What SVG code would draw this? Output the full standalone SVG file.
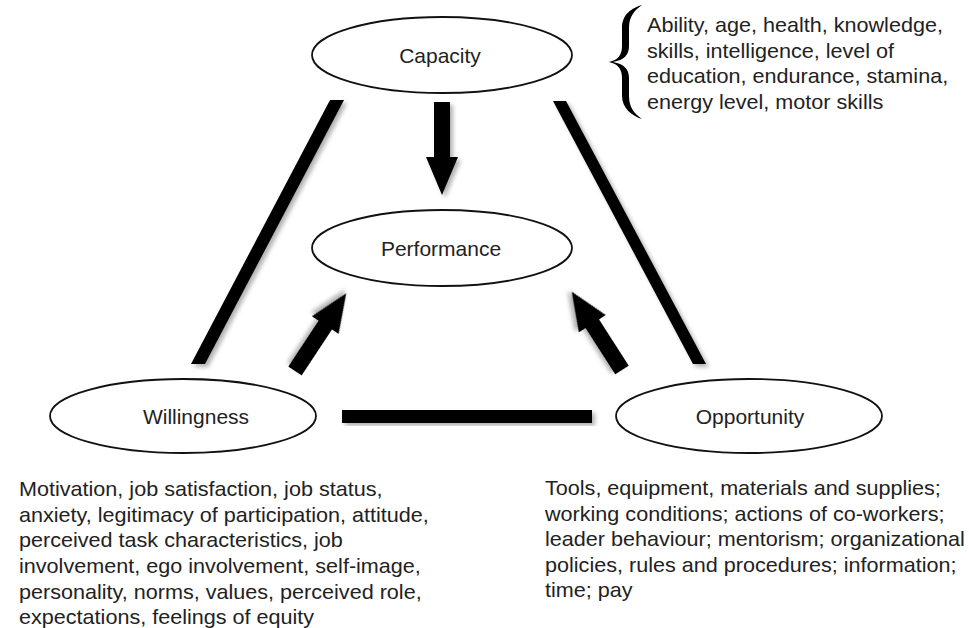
<svg xmlns="http://www.w3.org/2000/svg" width="969" height="628" viewBox="0 0 969 628">
<defs>
<style>
.node{fill:#fff;stroke:#111;stroke-width:1.8}
.lbl{font-family:"Liberation Sans",Arial,sans-serif;font-size:21px;fill:#222;text-anchor:middle}
.desc{font-family:"Liberation Sans",Arial,sans-serif;font-size:20px;fill:#222}
.bar{fill:#000;filter:url(#sh)}
</style>
<filter id="sh" x="-20%" y="-20%" width="140%" height="140%">
<feDropShadow dx="3" dy="3" stdDeviation="2" flood-color="#000" flood-opacity="0.3"/>
</filter>
<path id="arrow" d="M-8,0 L8,0 L8,55 L16,55 L0,93 L-16,55 L-8,55 Z"/>
</defs>
<rect width="969" height="628" fill="#fff"/>
<g id="connectors">
<polygon class="bar" points="330,100 344,100 205,364 191,364"/>
<polygon class="bar" points="553,101 566,101 706,364 693,364"/>
<rect class="bar" x="342" y="410" width="250" height="13"/>
<use href="#arrow" class="bar" transform="translate(442,102)"/>
<use href="#arrow" class="bar" transform="translate(295,371) rotate(-146.6)"/>
<use href="#arrow" class="bar" transform="translate(622,370) rotate(147.3)"/>
</g>
<g id="capacity">
<ellipse class="node" cx="442" cy="55" rx="130" ry="38"/>
<text class="lbl" x="440" y="63">Capacity</text>
</g>
<g id="performance">
<ellipse class="node" cx="442" cy="248" rx="130" ry="38"/>
<text class="lbl" x="441" y="256">Performance</text>
</g>
<g id="willingness">
<ellipse class="node" cx="183" cy="416" rx="133" ry="37"/>
<text class="lbl" x="196" y="424">Willingness</text>
</g>
<g id="opportunity">
<ellipse class="node" cx="749" cy="416" rx="133" ry="37"/>
<text class="lbl" x="750" y="424">Opportunity</text>
</g>
<g id="capacity-notes">
<path fill="#000" d="M642,5 C632,8 622,14 622,28 L622,46 C622,55 618,60 609,62 C618,64 622,69 622,78 L622,96 C622,108 632,116 642,119 C635,114 629,108 629,96 L629,78 C629,69 624,64 613,62 C624,60 629,55 629,46 L629,28 C629,16 635,10 642,5 Z"/>
<g transform="translate(647,0) scale(1.08,1)">
<text class="desc" x="0" y="32">Ability, age, health, knowledge,</text>
<text class="desc" x="0" y="58">skills, intelligence, level of</text>
<text class="desc" x="0" y="83">education, endurance, stamina,</text>
<text class="desc" x="0" y="109">energy level, motor skills</text>
</g>
</g>
<g id="willingness-notes" transform="translate(19,0) scale(1.08,1)">
<text class="desc" x="0" y="496">Motivation, job satisfaction, job status,</text>
<text class="desc" x="0" y="522">anxiety, legitimacy of participation, attitude,</text>
<text class="desc" x="0" y="547">perceived task characteristics, job</text>
<text class="desc" x="0" y="573">involvement, ego involvement, self-image,</text>
<text class="desc" x="0" y="599">personality, norms, values, perceived role,</text>
<text class="desc" x="0" y="624">expectations, feelings of equity</text>
</g>
<g id="opportunity-notes" transform="translate(545,0) scale(1.08,1)">
<text class="desc" x="0" y="495">Tools, equipment, materials and supplies;</text>
<text class="desc" x="0" y="521">working conditions; actions of co-workers;</text>
<text class="desc" x="0" y="546">leader behaviour; mentorism; organizational</text>
<text class="desc" x="0" y="572">policies, rules and procedures; information;</text>
<text class="desc" x="0" y="597">time; pay</text>
</g>
</svg>
